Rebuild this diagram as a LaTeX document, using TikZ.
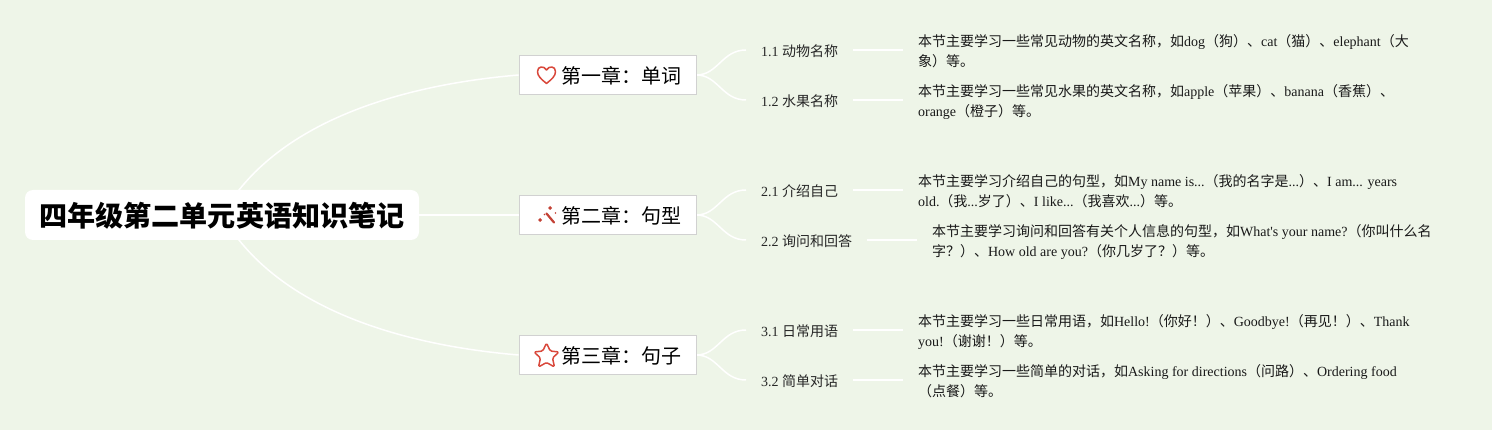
\documentclass[tikz,border=0pt]{standalone}
\usepackage{fontspec}
\setmainfont{Liberation Serif}
\newfontfamily\cjk{Noto Sans CJK SC}
\newcommand{\zh}[1]{{\cjk #1}}
\usetikzlibrary{positioning,backgrounds}
\definecolor{paper}{HTML}{EEF5E8}
\definecolor{inkred}{HTML}{D9483B}
\tikzset{
    rootbox/.style={fill=white,rounded corners=8pt,minimum width=394pt,minimum height=50pt,inner sep=0pt,text height=26.6pt,text depth=3.4pt,font=\fontsize{28.1}{32}\cjk\bfseries},
    chapter/.style={draw=black!18,fill=white,line width=.8pt,text width=147pt,inner xsep=15pt,minimum height=39.5pt,align=right,text height=19.2pt,text depth=2pt,font=\fontsize{20}{24}\cjk},
    sub/.style={inner xsep=15pt,inner ysep=3pt,text height=14pt,text depth=1.5pt,text=black!85,font=\fontsize{14}{20}\selectfont},
    detail/.style={right=50pt of #1,yshift=-1.6pt,inner xsep=14.5pt,inner ysep=0pt,align=left,text height=32pt,text depth=2pt,text=black!90,font=\fontsize{14}{20}\selectfont},
    link/.style={draw=white,line width=1.5pt},
    icon/.style={draw=inkred,line width=1.5pt,line join=round,line cap=round}
}
\begin{document}
\begin{tikzpicture}[x=1pt,y=-1pt]
    \useasboundingbox (0,0) rectangle (1492,430);
    \node[rootbox] (root) at (222,215) {四年级第二单元英语知识笔记};
    % chapters
    \node[chapter] (ch1) at (607.5,75) {第一章：单词};
    \node[chapter] (ch2) at (607.5,215) {第二章：句型};
    \node[chapter] (ch3) at (607.5,355) {第三章：句子};
    % sections
    \node[sub,anchor=west] (s11) at (746,50) {1.1 \zh{动物名称}};
    \node[sub,anchor=west] (s12) at (746,100) {1.2 \zh{水果名称}};
    \node[sub,anchor=west] (s21) at (746,190) {2.1 \zh{介绍自己}};
    \node[sub,anchor=west] (s22) at (746,240) {2.2 \zh{询问和回答}};
    \node[sub,anchor=west] (s31) at (746,330) {3.1 \zh{日常用语}};
    \node[sub,anchor=west] (s32) at (746,380) {3.2 \zh{简单对话}};
    % notes
    \node[detail=s11] (d11) {\zh{本节主要学习一些常见动物的英文名称，如}dog\zh{（狗）、}cat\zh{（猫）、}elephant\zh{（大}\\\zh{象）等。}};
    \node[detail=s12] (d12) {\zh{本节主要学习一些常见水果的英文名称，如}apple\zh{（苹果）、}banana\zh{（香蕉）、}\\orange\zh{（橙子）等。}};
    \node[detail=s21] (d21) {\zh{本节主要学习介绍自己的句型，如}My name is...\zh{（我的名字是}...\zh{）、}I am... years\\old.\zh{（我}...\zh{岁了）、}I like...\zh{（我喜欢}...\zh{）等。}};
    \node[detail=s22] (d22) {\zh{本节主要学习询问和回答有关个人信息的句型，如}What\textquotesingle s your name?\zh{（你叫什么名}\\\zh{字？）、}How old are you?\zh{（你几岁了？）等。}};
    \node[detail=s31] (d31) {\zh{本节主要学习一些日常用语，如}Hello!\zh{（你好！）、}Goodbye!\zh{（再见！）、}Thank\\you!\zh{（谢谢！）等。}};
    \node[detail=s32] (d32) {\zh{本节主要学习一些简单的对话，如}Asking for directions\zh{（问路）、}Ordering food\\\zh{（点餐）等。}};
    % icons
    \draw[icon] (546.5,83.5) .. controls (541,79) and (537.5,76) .. (537.5,71.5) .. controls (537.5,66) and (544,65.5) .. (546.5,70) .. controls (549,65.5) and (555.5,66) .. (555.5,71.5) .. controls (555.5,76) and (552,79) .. cycle;
    \draw[icon,draw=inkred!90!black,line width=2.2pt] (546.5,213.5) -- (554,222.5);
    \fill[inkred!90!black] (538,220) -- (540,218) -- (542,220) -- (540,222) -- cycle
        (548,208) -- (550,206) -- (552,208) -- (550,210) -- cycle
        (544.5,214.5) circle (.9pt) (555.5,213) circle (.8pt);
    \draw[icon,rounded corners=1.5pt] (546.5,343) -- (550.2,351) -- (559,352) -- (552.5,358) -- (554.5,367) -- (546.5,362.5) -- (538.5,367) -- (540.5,358) -- (534,352) -- (542.8,351) -- cycle;
    \begin{scope}[on background layer]
        \fill[paper] (0,0) rectangle (1492,430);
        \draw[link] (root.center) .. controls (275,122) and (400,85) .. (ch1.west);
        \draw[link] (root.east) -- (ch2.west);
        \draw[link] (root.center) .. controls (275,308) and (400,345) .. (ch3.west);
        \draw[link] (ch1.east) .. controls (718,75) and (722,50) .. (s11.west);
        \draw[link] (ch1.east) .. controls (718,75) and (722,100) .. (s12.west);
        \draw[link] (ch2.east) .. controls (718,215) and (722,190) .. (s21.west);
        \draw[link] (ch2.east) .. controls (718,215) and (722,240) .. (s22.west);
        \draw[link] (ch3.east) .. controls (718,355) and (722,330) .. (s31.west);
        \draw[link] (ch3.east) .. controls (718,355) and (722,380) .. (s32.west);
        \draw[link] (s11.east) -- (s11.east -| d11.west);
        \draw[link] (s12.east) -- (s12.east -| d12.west);
        \draw[link] (s21.east) -- (s21.east -| d21.west);
        \draw[link] (s22.east) -- (s22.east -| d22.west);
        \draw[link] (s31.east) -- (s31.east -| d31.west);
        \draw[link] (s32.east) -- (s32.east -| d32.west);
    \end{scope}
\end{tikzpicture}
\end{document}
